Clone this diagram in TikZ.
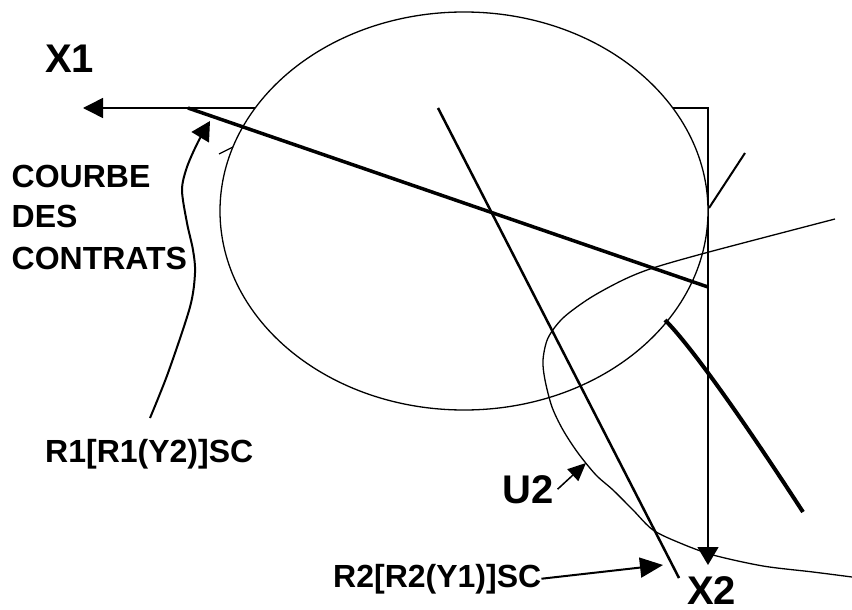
\documentclass[tikz,border=0pt]{standalone}
\usepackage{fontspec}
\setmainfont{Liberation Sans}
\usetikzlibrary{arrows.meta}
\begin{document}
\begin{tikzpicture}[x=1pt,y=-1pt,
  lab/.style={font=\bfseries\fontsize{32}{38}\selectfont, inner sep=0pt, anchor=base west},
  biglab/.style={font=\bfseries\fontsize{40}{48}\selectfont, inner sep=0pt, anchor=base west},
  axis/.style={line width=1.5pt},
  thin/.style={line width=1.3pt},
  thick1/.style={line width=3.5pt},
  thick2/.style={line width=4pt}]
\useasboundingbox (0,0) rectangle (852,610);

% axes frame (partly hidden by the ellipse)
\coordinate (x1tip) at (83,108);
\coordinate (corner) at (708,108);
\coordinate (x2tip) at (708,565);
\draw[axis, {Triangle[length=20pt,width=20pt]}-{Triangle[length=18pt,width=21pt]}]
  (x1tip) -- (corner) -- (x2tip);

% ellipse
\draw[thin, fill=white] (464,211) ellipse [x radius=244pt, y radius=199pt];

% small tick on the left of the ellipse
\draw[thin] (219,154) -- (233,147);

% straight lines
\draw[thick1] (188,108) -- (708,287);
\draw[line width=2.5pt] (438,108) -- (679,578);
\draw[line width=2pt] (745,153) -- (709,208);

% thick curve lower right
\draw[thick2] (665,320) .. controls (690,345) and (740,415) .. (803,512);

% indifference curve U2
\draw[thin] plot[smooth] coordinates {(835,219) (709,252) (653,268) (623,280) (590,298) (563,318) (548,338) (543,360) (545,380) (552,407) (563,430) (578,453) (596,475) (613,490) (633,510) (653,530) (680,543) (713,555) (763,566) (813,572) (852,577)};

% labels
\node[biglab] (x1lab) at (45,73) {X1};
\node[lab] (l1) at (11.5,187) {COURBE};
\node[lab] (l2) at (11.5,227) {DES};
\node[lab] (l3) at (11.5,269) {CONTRATS};
\node[lab] (r1lab) at (45,462) {R1[R1(Y2)]SC};
\node[lab] (r2lab) at (333,587) {R2[R2(Y1)]SC};
\node[biglab] (u2lab) at (502,503) {U2};
\node[biglab] (x2lab) at (687,604) {X2};

% label arrows
\draw[line width=2pt, -{Triangle[length=19pt,width=20pt]}]
  plot[smooth] coordinates {(150,418) (168,373) (190,307) (195,273) (193,250) (187,223) (182,190) (187,167) (198,142) (210,121)};
\coordinate (r2tip) at (663,565);
\draw[line width=2pt, -{Triangle[length=23pt,width=20pt]}] (r2lab.east) -- (r2tip);
\coordinate (u2tip) at (586,463);
\draw[line width=1.5pt, -{Triangle[length=18pt,width=16pt]}] ([xshift=4pt]u2lab.east) -- (u2tip);
\end{tikzpicture}
\end{document}
